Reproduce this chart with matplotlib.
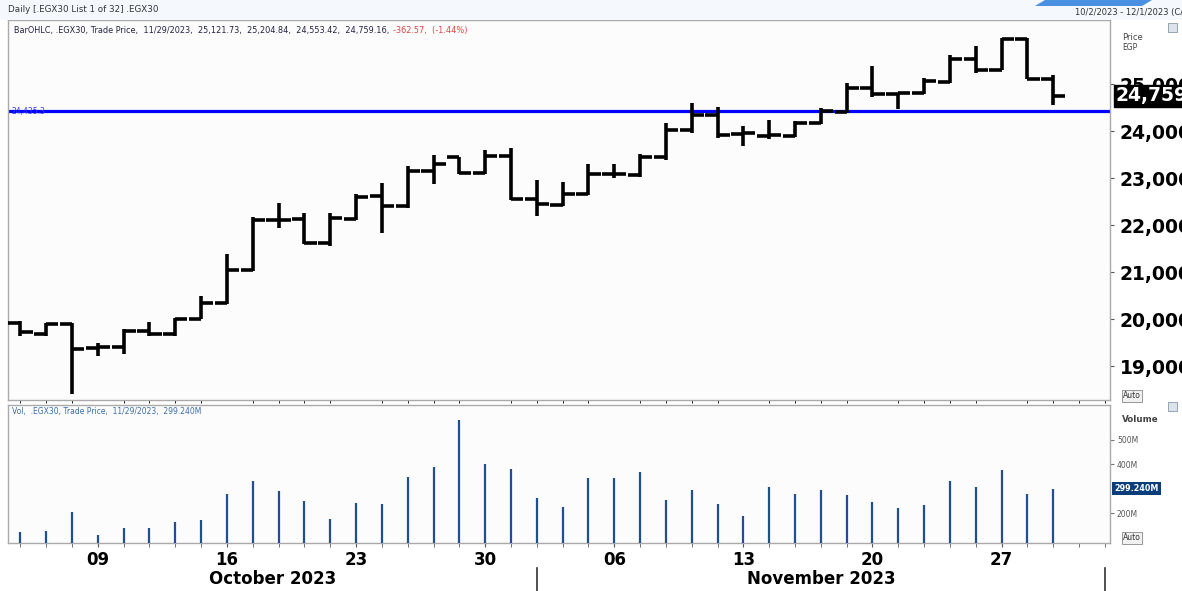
import numpy as np
import pandas as pd
import matplotlib
matplotlib.use("Agg")
import matplotlib.pyplot as plt
from matplotlib.patches import Polygon, Rectangle
from matplotlib.lines import Line2D
import matplotlib.transforms as mtransforms

# ---------------- data ----------------
trading_days = pd.bdate_range("2023-10-04", "2023-12-01")   # axis slots
opens = [19922, 19688, 19900, 19390, 19407, 19758, 19688, 20021, 20345, 21051,
         22125, 22140, 21617, 22140, 22619, 22407, 23169, 23453, 23114, 23481,
         22564, 22443, 22676, 23100, 23078, 23453, 24032, 24350, 23947, 23905,
         23905, 24174, 24419, 24928, 24794, 24823, 25055, 25551, 25318, 25975,
         25121.73]
highs = [19970, 19922, 19920, 19498, 19794, 19950, 20042, 20500, 21383, 22182,
         22479, 22267, 22267, 22676, 22903, 23275, 23502, 23467, 23608, 23644,
         22972, 22924, 23311, 23311, 23523, 24174, 24610, 24513, 24117, 24244,
         24229, 24492, 25021, 25388, 24823, 25148, 25621, 25811, 25996, 25990,
         25204.84]
lows = [19653, 19653, 18417, 19216, 19265, 19653, 19653, 20006, 20324, 21030,
        21949, 21596, 21574, 22125, 21843, 22373, 22888, 23100, 23100, 22549,
        22195, 22407, 22640, 23008, 23042, 23396, 23975, 23856, 23693, 23834,
        23877, 24159, 24398, 24725, 24470, 24794, 25034, 25246, 25303, 25127,
        24553.42]
closes = [19725, 19900, 19371, 19420, 19758, 19688, 20021, 20345, 21051, 22125,
          22125, 21617, 22161, 22606, 22407, 23169, 23311, 23114, 23481, 22564,
          22464, 22676, 23100, 23100, 23453, 24032, 24350, 23926, 23961, 23926,
          24186, 24441, 24928, 24794, 24823, 25076, 25551, 25318, 25975, 25121.73,
          24759.16]
volumes_m = [124, 127, 207, 111, 139, 139, 164, 174, 279, 331,
             291, 249, 176, 243, 237, 349, 390, 580, 400, 380,
             262, 226, 343, 343, 370, 254, 294, 238, 190, 306,
             279, 296, 275, 247, 222, 234, 333, 307, 378, 279,
             299.24]
ref_line = 24435.3
price_ticks = [19000, 20000, 21000, 22000, 23000, 24000, 25000]
vol_ticks = [200, 400, 500]
header_main = "BarOHLC, .EGX30, Trade Price,  11/29/2023,  25,121.73,  25,204.84,  24,553.42,  24,759.16, "
header_chg = "-362.57,  (-1.44%)"
vol_header = "Vol,  .EGX30, Trade Price,  11/29/2023,  299.240M"

# ---------------- figure ----------------
W, H = 1182, 591
fig = plt.figure(figsize=(W / 100, H / 100), dpi=100, facecolor="white")

def fx(px):
    return px / W

def fy(py):
    return 1 - py / H

# top strip
fig.patches.append(Rectangle((0, fy(20)), 1, 20 / H, transform=fig.transFigure,
                             facecolor="#f5f8fc", edgecolor="none", zorder=0))
fig.patches.append(Polygon([[fx(1035), fy(6)], [fx(1045), 1], [fx(1152), 1], [fx(1142), fy(6)]],
                           closed=True, transform=fig.transFigure,
                           facecolor="#4a90e2", edgecolor="none", zorder=1))
fig.text(fx(8), fy(10), "Daily [.EGX30 List 1 of 32] .EGX30", fontsize=6.3,
         color="#333333", va="center", ha="left")
fig.text(fx(1075), fy(13), "10/2/2023 - 12/1/2023 (CAI)", fontsize=6.0,
         color="#333333", va="center", ha="left")

ax = fig.add_axes([fx(8), fy(400), fx(1110) - fx(8), (400 - 20) / H])
axv = fig.add_axes([fx(8), fy(543), fx(1110) - fx(8), (543 - 405) / H], sharex=ax)

n = len(opens)
xs = np.arange(n)
half = 0.47
lw = 2.6
ax.vlines(xs, lows, highs, color="black", lw=lw, capstyle="butt", zorder=3)
ax.hlines(opens, xs - half, xs, color="black", lw=lw, zorder=3)
ax.hlines(closes, xs, xs + half, color="black", lw=lw, zorder=3)
ax.axhline(ref_line, color="#0000ff", lw=2.3, zorder=2)
ax.text(0.003, ref_line, "24,435.3", transform=mtransforms.blended_transform_factory(ax.transAxes, ax.transData),
        fontsize=5.5, color="#3333ff", va="center", ha="left", zorder=4)

ax.set_xlim(-0.48, 42.2)
ax.set_ylim(18287, 26372)
ax.set_facecolor("#fcfcfc")
for s in ax.spines.values():
    s.set_color("#aaaaaa")
    s.set_linewidth(1.0)
ax.yaxis.tick_right()
ax.set_yticks(price_ticks)
ax.set_yticklabels([f"{v:,}" for v in price_ticks], fontsize=13.5, fontweight="bold")
ax.tick_params(axis="y", length=3, color="#555555", pad=4)
ax.tick_params(axis="x", bottom=False, labelbottom=False)

t_main = ax.text(0.005, 0.985, header_main, transform=ax.transAxes, fontsize=5.9,
                 color="#222244", va="top", ha="left")
ax.annotate(header_chg, xy=(1, 0), xycoords=t_main, xytext=(1, 0), textcoords="offset points",
            fontsize=5.9, color="#e84040", va="bottom", ha="left")

# current price box
bt = mtransforms.blended_transform_factory(ax.transAxes, ax.transData)
ax.text(1.005, closes[-1], f"{closes[-1]:,.0f}", transform=bt,
        fontsize=13.5, fontweight="bold", color="white", va="center", ha="left",
        bbox=dict(boxstyle="square,pad=0.08", facecolor="black", edgecolor="black"),
        clip_on=False, zorder=10)

fig.text(fx(1122), fy(37), "Price", fontsize=6, color="#444444", va="center", ha="left")
fig.text(fx(1122), fy(48), "EGP", fontsize=5.5, color="#444444", va="center", ha="left")
fig.text(fx(1123), fy(396), "Auto", fontsize=5.5, color="#333333", va="center", ha="left",
         bbox=dict(boxstyle="square,pad=0.15", facecolor="#f0f0f0", edgecolor="#888888", lw=0.6))
fig.text(fx(1123), fy(538), "Auto", fontsize=5.5, color="#333333", va="center", ha="left",
         bbox=dict(boxstyle="square,pad=0.15", facecolor="#f0f0f0", edgecolor="#888888", lw=0.6))
for yy in (27, 406):
    fig.patches.append(Rectangle((fx(1168), fy(yy + 5)), 9 / W, 9 / H, transform=fig.transFigure,
                                 facecolor="#dde3ea", edgecolor="#8899aa", lw=0.6, zorder=5))

# ---------------- volume ----------------
axv.vlines(xs, 0, volumes_m, color="#1f4f91", lw=1.6, zorder=3)
axv.set_ylim(78.8, 642)
axv.set_facecolor("#fcfcfc")
for s in axv.spines.values():
    s.set_color("#aaaaaa")
    s.set_linewidth(1.0)
axv.yaxis.tick_right()
axv.set_yticks(vol_ticks)
axv.set_yticklabels([f"{v}M" for v in vol_ticks], fontsize=5.5, color="#555555")
axv.tick_params(axis="y", length=3, color="#777777", pad=2)
axv.text(0.004, 0.985, vol_header, transform=axv.transAxes, fontsize=5.5, color="#3a6ea5",
         va="top", ha="left")
bv = mtransforms.blended_transform_factory(axv.transAxes, axv.transData)
axv.text(1.004, volumes_m[-1], f"{volumes_m[-1]:.3f}M", transform=bv, fontsize=5.8,
         fontweight="bold", color="white", va="center", ha="left",
         bbox=dict(boxstyle="square,pad=0.25", facecolor="#0a3d7a", edgecolor="none"),
         clip_on=False, zorder=10)
fig.text(fx(1122), fy(420), "Volume", fontsize=6.3, fontweight="bold", color="#444444",
         va="center", ha="left")

# x axis: every slot ticked, Mondays labelled
all_slots = np.arange(len(trading_days))
monday_slots = [i for i, d in enumerate(trading_days) if d.weekday() == 0]
axv.set_xticks(all_slots, minor=True)
axv.set_xticks(monday_slots)
axv.set_xticklabels([trading_days[i].strftime("%d") for i in monday_slots],
                    fontsize=12, fontweight="bold")
axv.tick_params(axis="x", which="both", length=3, color="#555555", pad=3)

# months
months = sorted(set((d.year, d.month) for d in trading_days))
starts = []
for (yv, mv) in months:
    first = [i for i, d in enumerate(trading_days) if d.year == yv and d.month == mv][0]
    starts.append(first)
bounds = [-0.48] + starts[1:] + [42.2]
tb = mtransforms.blended_transform_factory(axv.transData, fig.transFigure)
for k, (yv, mv) in enumerate(months):
    if k >= len(bounds) - 1:
        continue
    a, b = bounds[k], bounds[k + 1]
    if b - a < 3:
        continue
    label = pd.Timestamp(year=yv, month=mv, day=1).strftime("%B %Y")
    axv.text((a + b) / 2, fy(579), label, transform=tb, fontsize=12, fontweight="bold",
             ha="center", va="center", clip_on=False)
for st in starts[1:]:
    axv.add_line(Line2D([st, st], [fy(568), fy(591)], transform=tb, color="#333333",
                        lw=1.2, clip_on=False))

fig.savefig("out.png", dpi=100, facecolor="white")
